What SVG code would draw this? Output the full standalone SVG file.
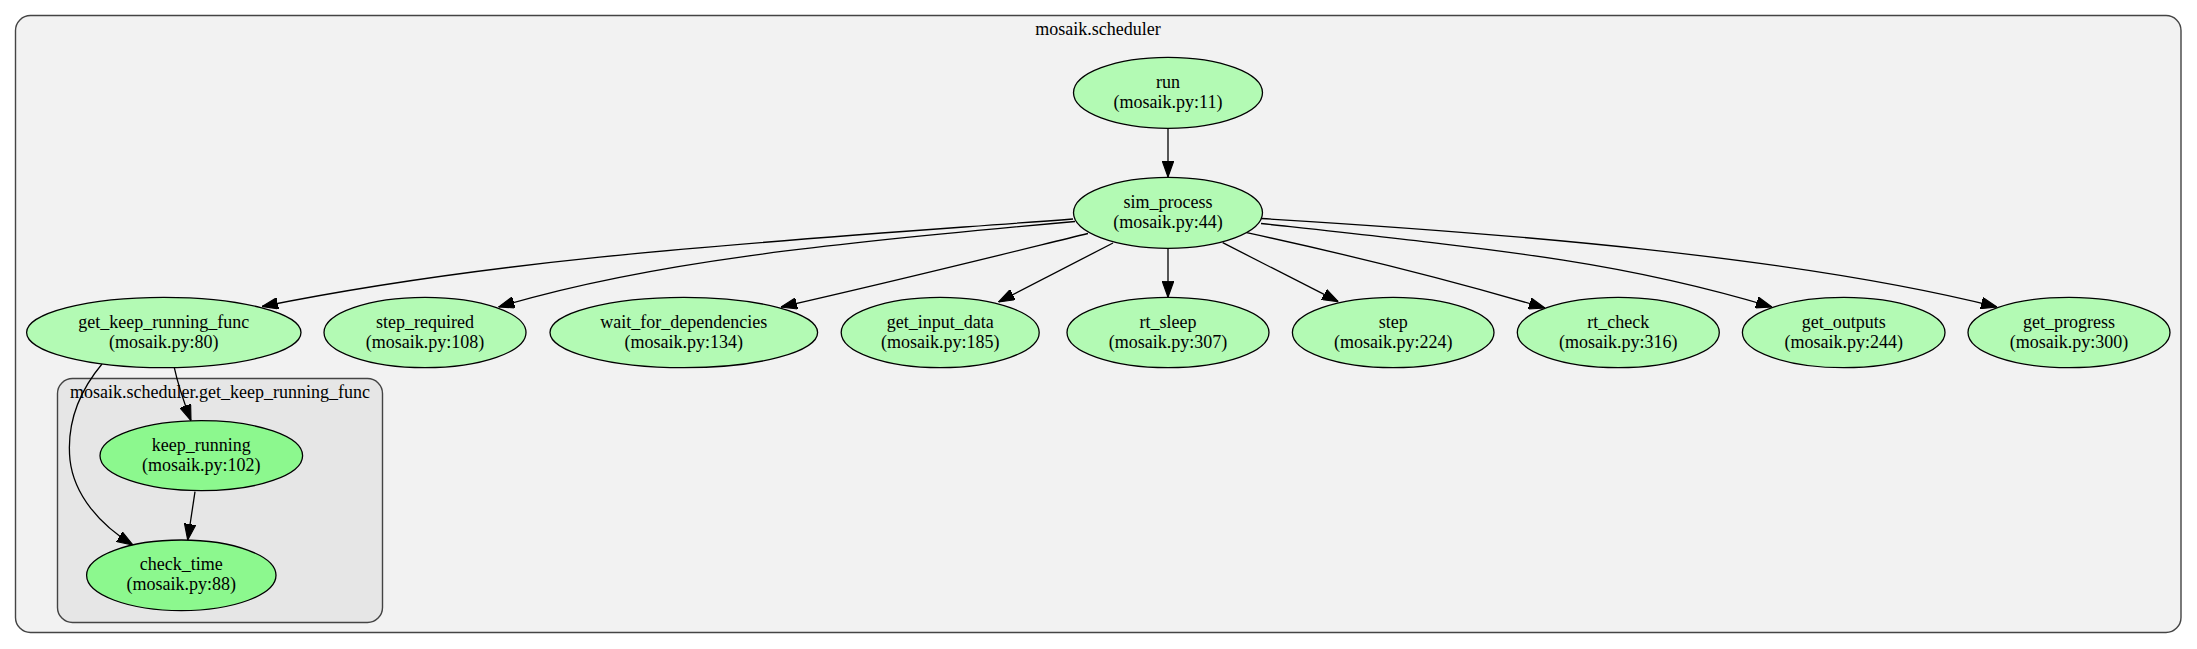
<svg xmlns="http://www.w3.org/2000/svg" width="2197" height="649" viewBox="0 0 2197 649">
<style>
  text { font-family: "Liberation Serif", "Times New Roman", serif; font-size: 18px; fill: #000; text-anchor: middle; }
  .cl-outer { fill: #f2f2f2; stroke: #444; stroke-width: 1.4; }
  .cl-inner { fill: #e6e6e6; stroke: #444; stroke-width: 1.4; }
  .n1 { fill: #b3fab4; stroke: #000; stroke-width: 1.3; }
  .n2 { fill: #8cf88e; stroke: #000; stroke-width: 1.3; }
  .edge { fill: none; stroke: #000; stroke-width: 1.3; marker-end: url(#arrow); }
</style>
<defs>
  <marker id="arrow" markerUnits="userSpaceOnUse" markerWidth="16" markerHeight="12" viewBox="0 0 14 10" refX="14" refY="5" orient="auto">
    <path d="M0,0 L14,5 L0,10 Z" fill="#000" stroke="#000" stroke-width="1"/>
  </marker>
</defs>
<rect width="2197" height="649" fill="#ffffff"/>

<g id="cluster-scheduler">
  <rect class="cl-outer" x="15.5" y="15.5" width="2165.5" height="617" rx="15" ry="15"/>
  <text x="1098" y="35">mosaik.scheduler</text>
</g>
<g id="cluster-get-keep-running-func">
  <rect class="cl-inner" x="57.5" y="378.5" width="325" height="244" rx="15" ry="15"/>
  <text x="220" y="398">mosaik.scheduler.get_keep_running_func</text>
</g>

<g id="connectors">
  <path class="edge" d="M1168,128.3 L1168,177"/>
  <path class="edge" d="M1073,219 C773,241.5 512,256 262,306.5"/>
  <path class="edge" d="M1075,221.5 C825,244 648,262 498.5,307"/>
  <path class="edge" d="M1088,233.5 C1000,255 900,280 781,307"/>
  <path class="edge" d="M1113,243 L998.5,302"/>
  <path class="edge" d="M1168,248.3 L1168,297.3"/>
  <path class="edge" d="M1222.7,242.7 L1338.3,301.7"/>
  <path class="edge" d="M1246.7,232.7 C1350,255 1450,280 1545,308"/>
  <path class="edge" d="M1261,223.5 C1511,251 1622,262 1772,307"/>
  <path class="edge" d="M1261,218.5 C1511,233.5 1797,257 1997,307"/>
  <path class="edge" d="M174.3,367.7 C178,385 185,405 191,420.7"/>
  <path class="edge" d="M195,491.7 L187.7,540"/>
  <path class="edge" d="M102,364 C82,388 66,420 70,460 C74,495 100,525 133,545"/>
</g>

<g id="node-run">
  <ellipse class="n1" cx="1168" cy="92.8" rx="94.5" ry="35.5"/>
  <text x="1168" y="88">run</text>
  <text x="1168" y="108">(mosaik.py:11)</text>
</g>
<g id="node-sim_process">
  <ellipse class="n1" cx="1168" cy="212.8" rx="94.5" ry="35.5"/>
  <text x="1168" y="208">sim_process</text>
  <text x="1168" y="228">(mosaik.py:44)</text>
</g>
<g id="node-get_keep_running_func">
  <ellipse class="n1" cx="163.8" cy="332.5" rx="137.2" ry="35.2"/>
  <text x="163.8" y="327.5">get_keep_running_func</text>
  <text x="163.8" y="347.5">(mosaik.py:80)</text>
</g>
<g id="node-step_required">
  <ellipse class="n1" cx="425" cy="332.5" rx="101" ry="35.2"/>
  <text x="425" y="327.5">step_required</text>
  <text x="425" y="347.5">(mosaik.py:108)</text>
</g>
<g id="node-wait_for_dependencies">
  <ellipse class="n1" cx="683.8" cy="332.5" rx="133.8" ry="35.2"/>
  <text x="683.8" y="327.5">wait_for_dependencies</text>
  <text x="683.8" y="347.5">(mosaik.py:134)</text>
</g>
<g id="node-get_input_data">
  <ellipse class="n1" cx="940.2" cy="332.5" rx="99" ry="35.2"/>
  <text x="940.2" y="327.5">get_input_data</text>
  <text x="940.2" y="347.5">(mosaik.py:185)</text>
</g>
<g id="node-rt_sleep">
  <ellipse class="n1" cx="1168" cy="332.5" rx="101" ry="35.2"/>
  <text x="1168" y="327.5">rt_sleep</text>
  <text x="1168" y="347.5">(mosaik.py:307)</text>
</g>
<g id="node-step">
  <ellipse class="n1" cx="1393.2" cy="332.5" rx="100.8" ry="35.2"/>
  <text x="1393.2" y="327.5">step</text>
  <text x="1393.2" y="347.5">(mosaik.py:224)</text>
</g>
<g id="node-rt_check">
  <ellipse class="n1" cx="1618.3" cy="332.5" rx="101" ry="35.2"/>
  <text x="1618.3" y="327.5">rt_check</text>
  <text x="1618.3" y="347.5">(mosaik.py:316)</text>
</g>
<g id="node-get_outputs">
  <ellipse class="n1" cx="1843.7" cy="332.5" rx="101.3" ry="35.2"/>
  <text x="1843.7" y="327.5">get_outputs</text>
  <text x="1843.7" y="347.5">(mosaik.py:244)</text>
</g>
<g id="node-get_progress">
  <ellipse class="n1" cx="2069" cy="332.5" rx="101" ry="35.2"/>
  <text x="2069" y="327.5">get_progress</text>
  <text x="2069" y="347.5">(mosaik.py:300)</text>
</g>
<g id="node-keep_running">
  <ellipse class="n2" cx="201.3" cy="455.7" rx="101.3" ry="35"/>
  <text x="201.3" y="450.7">keep_running</text>
  <text x="201.3" y="470.7">(mosaik.py:102)</text>
</g>
<g id="node-check_time">
  <ellipse class="n2" cx="181.3" cy="575.3" rx="94.7" ry="35.3"/>
  <text x="181.3" y="570.3">check_time</text>
  <text x="181.3" y="590.3">(mosaik.py:88)</text>
</g>
</svg>
